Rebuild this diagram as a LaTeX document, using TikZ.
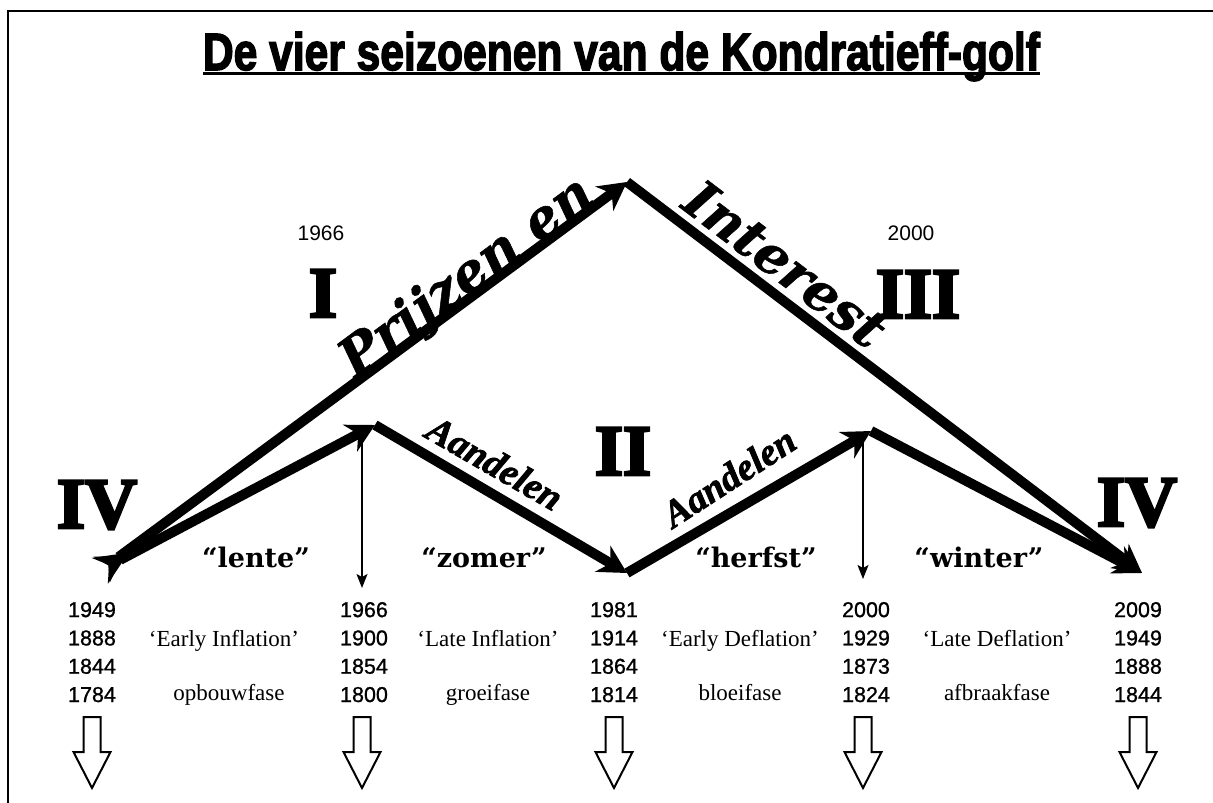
\documentclass[tikz,border=0pt]{standalone}
\usepackage{fontspec}
\usepackage{graphicx}
\usetikzlibrary{arrows.meta}
\setmainfont{Liberation Serif}
\newfontfamily\datefont{Liberation Sans}[FakeBold=1]
\newfontfamily\yearfont{Liberation Sans}
\newfontfamily\titlefont{Liberation Sans}[BoldFeatures={FakeBold=3}]
\newfontfamily\romanfont{Liberation Serif}[BoldFeatures={FakeBold=4}]
\newfontfamily\seasonfont{DejaVu Serif}
\newfontfamily\slantfont{DejaVu Serif}[BoldItalicFeatures={FakeBold=1}]
\newfontfamily\gothfont{Liberation Serif}[BoldItalicFeatures={FakeBold=2}]
\tikzset{
  bigtip/.tip={Stealth[length=28pt,width=30pt,inset=9pt]},
  tailtip/.tip={Stealth[reversed,length=28pt,width=30pt,inset=9pt]},
  thickline/.style={line width=10pt},
  thinarrow/.style={line width=1.3pt,-{Stealth[length=14pt,width=11pt,inset=3pt]}},
  datestyle/.style={font=\datefont\fontsize{21.5}{28.3}\selectfont,align=center,inner sep=0pt,anchor=base},
  phase/.style={font=\fontsize{23}{23}\selectfont,inner sep=0pt,anchor=base},
  season/.style={font=\seasonfont\bfseries\fontsize{27}{27}\selectfont,inner sep=0pt,anchor=base},
  roman/.style={font=\romanfont\bfseries\fontsize{72}{72}\selectfont,inner sep=0pt,anchor=base},
  year/.style={font=\yearfont\fontsize{21}{21}\selectfont,inner sep=0pt,anchor=base},
  slanted/.style={font=\slantfont\bfseries\itshape\fontsize{53}{53}\selectfont,inner sep=0pt,anchor=base},
  gothic/.style={font=\gothfont\bfseries\itshape\fontsize{38}{38}\selectfont,inner sep=0pt},
  hollow/.pic={\draw[line width=2pt,line join=miter] (-8.5,0) -- (8.5,0) -- (8.5,35) -- (18.5,35) -- (0,71) -- (-18.5,35) -- (-8.5,35) -- cycle;}
}
\begin{document}
\begin{tikzpicture}[x=1pt,y=-1pt]
\useasboundingbox (0,0) rectangle (1213,803);
% frame
\draw[line width=2.2pt] (8.3,803) -- (8.3,11) -- (1213,11);
% title
\node[inner sep=0pt,anchor=base] (title) at (621.5,70) {\resizebox{837pt}{38pt}{\titlefont\bfseries De vier seizoenen van de Kondratieff-golf}};
\coordinate (ul1) at (203,73.5);
\coordinate (ul2) at (1040,73.5);
\draw[line width=3pt] (ul1) -- (ul2);
% main points
\coordinate (A) at (101,570);
\coordinate (P) at (627,182);
\coordinate (B) at (1142,573);
\coordinate (L1) at (375,425);
\coordinate (L2) at (627,573);
\coordinate (L3) at (871,431);
% upper wave
\draw[thickline,tailtip-bigtip] (A) -- (P);
\draw[thickline,-bigtip] (P) -- (B);
% lower wave
\draw[thickline,tailtip-bigtip] (A) -- (L1);
\draw[thickline,-bigtip] (L1) -- (L2);
\draw[thickline,-bigtip] (L2) -- (L3);
\draw[thickline,-bigtip] (L3) -- (B);
% thin vertical arrows
\coordinate (V1s) at (362,438);
\coordinate (V1e) at (362,588);
\coordinate (V3s) at (863,442);
\coordinate (V3e) at (863,579);
\draw[thinarrow] (V1s) -- (V1e);
\draw[thinarrow] (V3s) -- (V3e);
% wave labels
\node[slanted,rotate=36.4] (prijzen) at (476,290) {Prijzen en};
\node[slanted,rotate=-37.2] (interest) at (774,279) {Interest};
\node[gothic,rotate=-30] (aand1) at (495,463) {Aandelen};
\node[gothic,rotate=33] (aand2) at (729,477) {Aandelen};
% roman numerals
\node[roman] (r1) at (323,317) {I};
\node[roman] (r3) at (918,318) {III};
\node[roman] (r2) at (623,475) {II};
\node[roman] (r4a) at (97,528) {IV};
\node[roman] (r4b) at (1137,526) {IV};
% years at top
\node[year] (y1966) at (321,240) {1966};
\node[year] (y2000) at (911,240) {2000};
% seasons
\node[season] (s1) at (256,567) {“lente”};
\node[season] (s2) at (484,567) {“zomer”};
\node[season] (s3) at (756,567) {“herfst”};
\node[season] (s4) at (979,567) {“winter”};
% date columns (base anchor = last line)
\node[datestyle] (c1) at (92,702) {1949\\1888\\1844\\1784};
\node[datestyle] (c2) at (364,702) {1966\\1900\\1854\\1800};
\node[datestyle] (c3) at (614,702) {1981\\1914\\1864\\1814};
\node[datestyle] (c4) at (866,702) {2000\\1929\\1873\\1824};
\node[datestyle] (c5) at (1138,702) {2009\\1949\\1888\\1844};
% phases
\node[phase] (p1a) at (224,646) {‘Early Inflation’};
\node[phase] (p1b) at (229,700) {opbouwfase};
\node[phase] (p2a) at (488,646) {‘Late Inflation’};
\node[phase] (p2b) at (488,700) {groeifase};
\node[phase] (p3a) at (740,646) {‘Early Deflation’};
\node[phase] (p3b) at (740,700) {bloeifase};
\node[phase] (p4a) at (997,646) {‘Late Deflation’};
\node[phase] (p4b) at (997,700) {afbraakfase};
% hollow down arrows
\pic (h1) at (92,717) {hollow};
\pic (h2) at (362,717) {hollow};
\pic (h3) at (614,717) {hollow};
\pic (h4) at (863,717) {hollow};
\pic (h5) at (1138,717) {hollow};
\end{tikzpicture}
\end{document}
